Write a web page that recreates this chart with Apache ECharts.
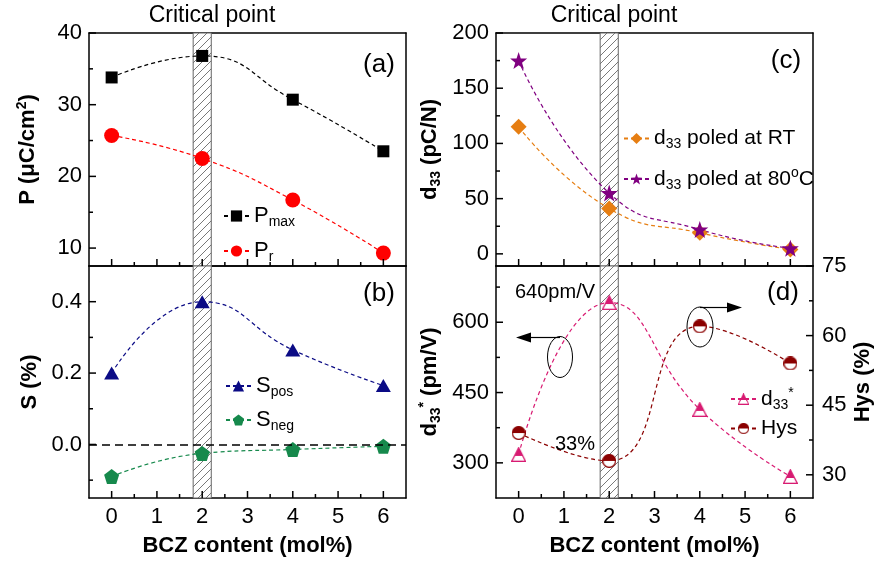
<!DOCTYPE html>
<html><head><meta charset="utf-8">
<script src="https://cdn.jsdelivr.net/npm/echarts@6/dist/echarts.min.js"></script>
<style>html,body{margin:0;padding:0;background:#fff}#c{width:877px;height:565px}</style>
</head><body><div id="c"></div>
<script>
// ---------------- data ----------------
const bczContent = [0, 2, 4, 6];
const pMax = [33.8, 36.8, 30.7, 23.5];
const pR = [25.7, 22.5, 16.7, 9.3];
const sPos = [0.20, 0.40, 0.265, 0.165];
const sNeg = [-0.09, -0.025, -0.014, -0.005];
const d33RT = [115, 41, 19, 4];
const d33Hot = [175, 55, 22, 5];
const d33Star = [318, 642, 414, 271];
const hys = [39, 33, 62, 54];
const criticalBand = [1.8, 2.2];

// axis ranges and tick values
const xRange = [-0.5, 6.5];
const pRange = [7.5, 40], sRange = [-0.15, 0.5], d33Range = [-11, 200], d33sRange = [225, 720], hysRange = [25, 75];
const xTicks = [0, 1, 2, 3, 4, 5, 6];
const xMinorTicks = [0.5, 1.5, 2.5, 3.5, 4.5, 5.5];
const pTicks = [10, 20, 30, 40], pMinor = [15, 25, 35];
const sTicks = [0, 0.2, 0.4], sMinor = [-0.1, 0.1, 0.3];
const d33Ticks = [0, 50, 100, 150, 200], d33Minor = [25, 75, 125, 175];
const d33sTicks = [300, 450, 600], d33sMinor = [375, 525, 675];
const hysTicks = [30, 45, 60, 75], hysMinor = [37.5, 52.5, 67.5];

// ---------------- styles ----------------
const FONT = '"Liberation Sans", Arial, sans-serif';
const C = {pmax:'#000000', pr:'#ff0000', spos:'#0b0b85', sneg:'#16894c', rt:'#e67e12', hot:'#800080', d33s:'#d81b72', hys:'#8b0000'};

function hatchCanvas() {
  const s = 8, c = document.createElement('canvas');
  c.width = s; c.height = s;
  const g = c.getContext('2d');
  g.fillStyle = '#fff'; g.fillRect(0, 0, s, s);
  g.strokeStyle = '#6a6a6a'; g.lineWidth = 0.9;
  g.beginPath();
  g.moveTo(-1, s + 1); g.lineTo(s + 1, -1);
  g.moveTo(-1, 1); g.lineTo(1, -1);
  g.moveTo(s - 1, s + 1); g.lineTo(s + 1, s - 1);
  g.stroke();
  return c;
}
function halfSymbol(kind, color, size, frac) {
  const k = 4, c = document.createElement('canvas');
  c.width = size * k; c.height = size * k;
  const g = c.getContext('2d'); g.scale(k, k);
  const lw = 1.3;
  function shape() {
    g.beginPath();
    if (kind === 'circle') g.arc(size / 2, size / 2, size / 2 - lw / 2, 0, Math.PI * 2);
    else { g.moveTo(size / 2, lw * 0.6); g.lineTo(size - lw / 2, size - lw / 2); g.lineTo(lw / 2, size - lw / 2); g.closePath(); }
  }
  shape(); g.fillStyle = '#fff'; g.fill();
  g.save(); shape(); g.clip(); g.fillStyle = color; g.fillRect(0, 0, size, size * frac); g.restore();
  shape(); g.strokeStyle = color; g.lineWidth = lw; g.stroke();
  return 'image://' + c.toDataURL();
}
const PENTAGON = 'path://M0,-10 L9.51,-3.09 L5.88,8.09 L-5.88,8.09 L-9.51,-3.09 Z';
const STAR = 'path://M0,-10 L2.35,-3.24 L9.51,-3.09 L3.8,1.24 L5.88,8.09 L0,4 L-5.88,8.09 L-3.8,1.24 L-9.51,-3.09 L-2.35,-3.24 Z';

const hatch = hatchCanvas();
function lineSt() { return {color: '#000', width: 1.5}; }
function labelBase() { return {fontSize: 22, fontFamily: FONT, color: '#000'}; }
function nameBase() {
  return {fontSize: 22, fontWeight: 'bold', fontFamily: FONT, color: '#000',
    rich: {
      sup: {fontSize: 14, fontWeight: 'bold', fontFamily: FONT, color: '#000', padding: [0, 0, 12, 0]},
      sub: {fontSize: 14, fontWeight: 'bold', fontFamily: FONT, color: '#000', padding: [12, 0, 0, 0]}
    }};
}

const grids = [
  {left: 89, top: 33, width: 317, height: 233},
  {left: 89, top: 266, width: 317, height: 232},
  {left: 496, top: 33, width: 317, height: 233},
  {left: 496, top: 266, width: 317, height: 232}
].map(r => Object.assign({show: false}, r));

function xBottom(gi, showLabel) {
  return {type: 'value', gridIndex: gi, position: 'bottom', min: xRange[0], max: xRange[1],
    splitLine: {show: false}, axisLine: {show: true, onZero: false, lineStyle: lineSt()},
    axisTick: {show: false},
    axisLabel: Object.assign({show: showLabel, customValues: xTicks, margin: 8}, labelBase()),
    name: showLabel ? 'BCZ content (mol%)' : '', nameLocation: 'middle', nameGap: 37, nameTextStyle: nameBase()};
}
function xTopLine(gi) {
  return {type: 'value', gridIndex: gi, position: 'top', min: xRange[0], max: xRange[1],
    splitLine: {show: false}, axisLine: {show: true, onZero: false, lineStyle: lineSt()},
    axisTick: {show: false}, axisLabel: {show: false}};
}
function yLabeled(gi, pos, range, major, fmt, name, gap) {
  return {type: 'value', gridIndex: gi, position: pos, min: range[0], max: range[1],
    splitLine: {show: false}, axisLine: {show: true, onZero: false, lineStyle: lineSt()},
    axisTick: {show: false},
    axisLabel: Object.assign({customValues: major, margin: pos === 'right' ? 9 : 7, formatter: fmt}, labelBase()),
    name: name, nameLocation: 'middle', nameGap: gap, nameTextStyle: nameBase()};
}
function yRightLine(gi) {
  return {type: 'value', gridIndex: gi, position: 'right', min: 0, max: 1,
    splitLine: {show: false}, axisLine: {show: true, onZero: false, lineStyle: lineSt()},
    axisTick: {show: false}, axisLabel: {show: false}};
}

const xAxis = [xBottom(0, false), xBottom(1, true), xBottom(2, false), xBottom(3, true),
  xTopLine(0), xTopLine(1), xTopLine(2), xTopLine(3)];
const yAxis = [
  yLabeled(0, 'left', pRange, pTicks, v => String(v), 'P (\u03bcC/cm{sup|2})', 48),
  yLabeled(1, 'left', sRange, sTicks, v => v.toFixed(1), 'S (%)', 48),
  yLabeled(2, 'left', d33Range, d33Ticks, v => String(v), 'd{sub|33} (pC/N)', 53),
  yLabeled(3, 'left', d33sRange, d33sTicks, v => String(v), 'd{sub|33}{sup|*} (pm/V)', 53),
  yLabeled(3, 'right', hysRange, hysTicks, v => String(v), 'Hys (%)', 39),
  yRightLine(0), yRightLine(1), yRightLine(2)
];
// y axis indices: grid0 ->0, grid1 ->1, grid2 ->2, grid3 left ->3, grid3 right ->4

function lineSeries(name, xi, yi, ys, color, symbol, size, extra) {
  return Object.assign({
    name: name, type: 'line', xAxisIndex: xi, yAxisIndex: yi,
    data: bczContent.map((x, i) => [x, ys[i]]),
    smooth: 0.5, symbol: symbol, symbolSize: size, showSymbol: true, z: 3,
    lineStyle: {color: color, width: 1.2, type: [4, 3]},
    itemStyle: {color: color, opacity: 1},
    emphasis: {disabled: true}
  }, extra || {});
}
function bandSeries(gi) {
  return {type: 'line', name: 'band' + gi, xAxisIndex: gi, yAxisIndex: gi, data: [], z: 1, silent: true,
    markArea: {silent: true,
      itemStyle: {color: {image: hatch, repeat: 'repeat'}, opacity: 1, borderColor: '#666', borderWidth: 1},
      data: [[{xAxis: criticalBand[0]}, {xAxis: criticalBand[1]}]]}};
}

const series = [
  bandSeries(0), bandSeries(1), bandSeries(2), bandSeries(3),
  lineSeries('Pmax', 0, 0, pMax, C.pmax, 'rect', 12),
  lineSeries('Pr', 0, 0, pR, C.pr, 'circle', 15),
  lineSeries('Spos', 1, 1, sPos, C.spos, 'triangle', [15, 13]),
  lineSeries('Sneg', 1, 1, sNeg, C.sneg, PENTAGON, 15, {
    markLine: {silent: true, symbol: ['none', 'none'], label: {show: false},
      lineStyle: {color: '#000', width: 1.5, type: [8, 5]}, data: [{yAxis: 0}]}
  }),
  lineSeries('d33RT', 2, 2, d33RT, C.rt, 'diamond', 16),
  lineSeries('d33Hot', 2, 2, d33Hot, C.hot, STAR, 17),
  lineSeries('d33s', 3, 3, d33Star, C.d33s, halfSymbol('triangle', C.d33s, 15, 0.6), 15),
  lineSeries('Hys', 3, 4, hys, C.hys, halfSymbol('circle', C.hys, 14, 0.5), 14)
];

const legendLabels = {
  Pmax: 'P{sub|max}', Pr: 'P{sub|r}', Spos: 'S{sub|pos}', Sneg: 'S{sub|neg}',
  d33RT: 'd{sub|33} poled at RT', d33Hot: 'd{sub|33} poled at 80{sup|o}C',
  d33s: 'd{sub|33}{sup|*}', Hys: 'Hys'
};
function legendItem(name, left, cy, fs) {
  return {data: [name], left: left, top: cy - 7, orient: 'vertical', padding: 0, itemGap: 0,
    itemWidth: 25, itemHeight: 14, selectedMode: false,
    formatter: n => legendLabels[n],
    textStyle: {fontSize: fs, fontFamily: FONT, color: '#000',
      rich: {sub: {fontSize: 14, fontFamily: FONT, color: '#000', padding: [12, 0, 0, 0]},
             sup: {fontSize: 14, fontFamily: FONT, color: '#000', padding: [0, 0, 12, 0]}}}};
}
const legend = [
  legendItem('Pmax', 223, 212, 22), legendItem('Pr', 223, 247, 22),
  legendItem('Spos', 225, 382, 22), legendItem('Sneg', 225, 416, 22),
  legendItem('d33RT', 623, 135, 21), legendItem('d33Hot', 623, 173, 21),
  legendItem('d33s', 730, 393, 21), legendItem('Hys', 730, 425, 21)
];

function txt(s, x, y, size) {
  return {type: 'text', x: x, y: y, z: 20, style: {text: s, font: size + 'px ' + FONT, fill: '#000',
    align: 'center', verticalAlign: 'middle', textAlign: 'center', textVerticalAlign: 'middle'}};
}
const graphic = [
  txt('Critical point', 212, 16, 23), txt('Critical point', 614, 16, 23),
  txt('(a)', 379, 65, 26), txt('(b)', 379, 294, 26), txt('(c)', 786, 61, 26), txt('(d)', 783, 293, 26),
  txt('640pm/V', 555, 292, 20), txt('33%', 575, 444, 20),
  {type: 'ellipse', z: 20, shape: {cx: 560, cy: 357, rx: 12.5, ry: 20.5}, style: {fill: 'none', stroke: '#000', lineWidth: 1}},
  {type: 'line', z: 20, shape: {x1: 560, y1: 337.5, x2: 528, y2: 337.5}, style: {stroke: '#000', lineWidth: 1.2}},
  {type: 'polygon', z: 20, shape: {points: [[516, 337.5], [531, 332.5], [531, 342.5]]}, style: {fill: '#000'}},
  {type: 'ellipse', z: 20, shape: {cx: 700, cy: 327, rx: 13, ry: 20}, style: {fill: 'none', stroke: '#000', lineWidth: 1}},
  {type: 'line', z: 20, shape: {x1: 700, y1: 307.5, x2: 730, y2: 307.5}, style: {stroke: '#000', lineWidth: 1.2}},
  {type: 'polygon', z: 20, shape: {points: [[742, 307.5], [727, 302.5], [727, 312.5]]}, style: {fill: '#000'}}
];

const chart = echarts.init(document.getElementById('c'));
chart.setOption({
  animation: false,
  backgroundColor: '#fff',
  grid: grids, xAxis: xAxis, yAxis: yAxis, series: series, legend: legend, graphic: graphic
});

// inward tick marks, placed through the axes' own scales
const tickEls = [];
function addTicks(xi, yi, pts, dx, dy) {
  pts.forEach(pt => {
    const p = chart.convertToPixel({xAxisIndex: xi, yAxisIndex: yi}, pt);
    if (!p) return;
    tickEls.push({type: 'line', z: 30, silent: true,
      shape: {x1: p[0], y1: p[1], x2: p[0] + dx, y2: p[1] + dy},
      style: {stroke: '#000', lineWidth: 1.5}});
  });
}
const panels = [
  {gi: 0, range: pRange, maj: pTicks, min: pMinor},
  {gi: 1, range: sRange, maj: sTicks, min: sMinor},
  {gi: 2, range: d33Range, maj: d33Ticks, min: d33Minor},
  {gi: 3, range: d33sRange, maj: d33sTicks, min: d33sMinor}
];
panels.forEach(pn => {
  addTicks(pn.gi, pn.gi, pn.maj.map(v => [xRange[0], v]), 7, 0);
  addTicks(pn.gi, pn.gi, pn.min.map(v => [xRange[0], v]), 4, 0);
  addTicks(pn.gi, pn.gi, xTicks.map(v => [v, pn.range[0]]), 0, -7);
  addTicks(pn.gi, pn.gi, xMinorTicks.map(v => [v, pn.range[0]]), 0, -4);
});
addTicks(3, 4, hysTicks.map(v => [xRange[1], v]), -7, 0);
addTicks(3, 4, hysMinor.map(v => [xRange[1], v]), -4, 0);
chart.setOption({graphic: {elements: graphic.concat(tickEls)}});
</script></body></html>
